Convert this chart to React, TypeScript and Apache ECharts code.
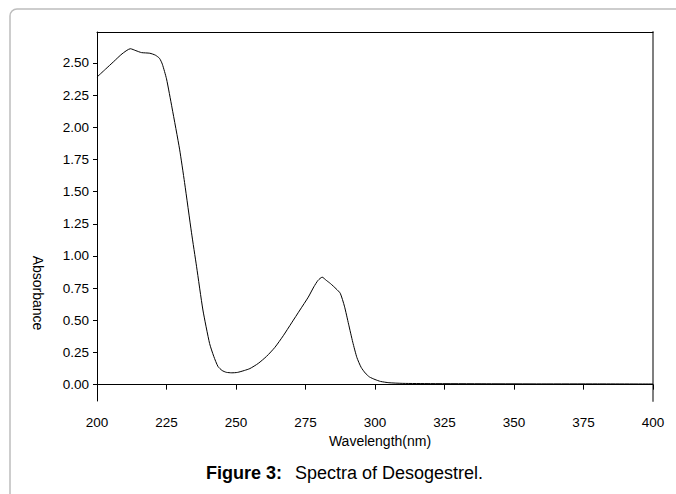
import React, { useEffect, useRef } from "react";
import * as echarts from "echarts";

const wavelength = [
  200, 203, 206, 209, 212, 214, 216, 219, 221, 222.5, 223.5, 225, 227, 229.7, 231.5, 234, 235.8,
  238.1, 240.5, 242, 243.5, 245, 246.5, 248.5, 250.5, 253, 255, 258, 261, 264, 267, 270, 273,
  276, 278, 279.5, 281, 282.5, 284, 286, 287.5, 289, 290.5, 292, 293.5, 295, 296.5, 298, 300,
  302, 305, 310, 320, 340, 360, 380, 400,
];
const absorbance = [
  2.39, 2.45, 2.51, 2.57, 2.61, 2.595, 2.58, 2.575, 2.56, 2.535, 2.49, 2.376, 2.15, 1.83, 1.57,
  1.18, 0.92, 0.58, 0.32, 0.22, 0.142, 0.11, 0.096, 0.092, 0.095, 0.11, 0.125, 0.165, 0.22, 0.29,
  0.38, 0.48, 0.58, 0.68, 0.76, 0.81, 0.835, 0.81, 0.785, 0.745, 0.71, 0.61, 0.47, 0.33, 0.21,
  0.135, 0.09, 0.06, 0.04, 0.025, 0.015, 0.01, 0.008, 0.007, 0.006, 0.006, 0.005,
];
const yTicks = [0, 0.25, 0.5, 0.75, 1.0, 1.25, 1.5, 1.75, 2.0, 2.25, 2.5];
const xAxisName = "Wavelength(nm)";
const yAxisName = "Absorbance";
const captionBold = "Figure 3:";
const captionText = "Spectra of Desogestrel.";

const FONT = "'Liberation Sans', Arial, sans-serif";

export default function App() {
  const ref = useRef<HTMLDivElement>(null);
  useEffect(() => {
    if (!ref.current) return;
    const chart = echarts.init(ref.current, null, { renderer: "svg" });
    const data = wavelength.map((w, i) => [w, absorbance[i]]);
    chart.setOption({
      animation: false,
      backgroundColor: "#ffffff",
      grid: { left: 97, right: 23, top: 32, bottom: 93, show: false },
      xAxis: [
        {
          type: "value",
          min: 200,
          max: 400,
          interval: 25,
          axisLine: { show: true, lineStyle: { color: "#000", width: 1 } },
          axisTick: { show: true, length: 5, lineStyle: { color: "#000" } },
          axisLabel: { color: "#000", fontSize: 13.5, fontFamily: FONT, margin: 14 },
          splitLine: { show: false },
        },
        {
          type: "value",
          position: "top",
          min: 200,
          max: 400,
          axisLine: { show: true, onZero: false, lineStyle: { color: "#000", width: 1 } },
          axisTick: { show: false },
          axisLabel: { show: false },
          splitLine: { show: false },
        },
      ],
      yAxis: [
        {
          type: "value",
          min: -0.127,
          max: 2.74,
          axisLine: { show: true, onZero: false, lineStyle: { color: "#000", width: 1 } },
          axisTick: { show: true, length: 4, customValues: yTicks, lineStyle: { color: "#000" } },
          axisLabel: {
            color: "#000",
            fontSize: 13.5,
            fontFamily: FONT,
            margin: 8,
            customValues: yTicks,
            formatter: (v: number) => v.toFixed(2),
          },
          splitLine: { show: false },
        },
        {
          type: "value",
          position: "right",
          min: -0.127,
          max: 2.74,
          axisLine: { show: true, onZero: false, lineStyle: { color: "#7f7f7f", width: 2 } },
          axisTick: { show: false },
          axisLabel: { show: false },
          splitLine: { show: false },
        },
      ],
      series: [
        {
          type: "line",
          data,
          xAxisIndex: 0,
          yAxisIndex: 0,
          showSymbol: false,
          smooth: 0.2,
          lineStyle: { color: "#000", width: 1 },
        },
      ],
      graphic: [
        {
          type: "rect",
          shape: { x: 10, y: 9, width: 720, height: 520, r: 7 },
          style: { fill: "none", stroke: "#bdbdbd", lineWidth: 1.5 },
          z: -1,
        },
        {
          type: "text",
          x: 38,
          y: 293,
          rotation: -Math.PI / 2,
          style: {
            text: yAxisName,
            fill: "#000",
            font: `14px ${FONT}`,
            textAlign: "center",
            textVerticalAlign: "middle",
          },
        },
        {
          type: "text",
          x: 380,
          y: 441,
          style: {
            text: xAxisName,
            fill: "#000",
            font: `14px ${FONT}`,
            textAlign: "center",
            textVerticalAlign: "middle",
          },
        },
        {
          type: "text",
          x: 206,
          y: 473,
          style: {
            text: captionBold,
            fill: "#000",
            font: `bold 18px ${FONT}`,
            textAlign: "left",
            textVerticalAlign: "middle",
          },
        },
        {
          type: "text",
          x: 295,
          y: 473,
          style: {
            text: captionText,
            fill: "#000",
            font: `18px ${FONT}`,
            textAlign: "left",
            textVerticalAlign: "middle",
          },
        },
      ],
    });
    return () => chart.dispose();
  }, []);
  return (
    <div
      ref={ref}
      style={{ position: "fixed", left: 0, top: 0, width: 676, height: 494 }}
    />
  );
}
